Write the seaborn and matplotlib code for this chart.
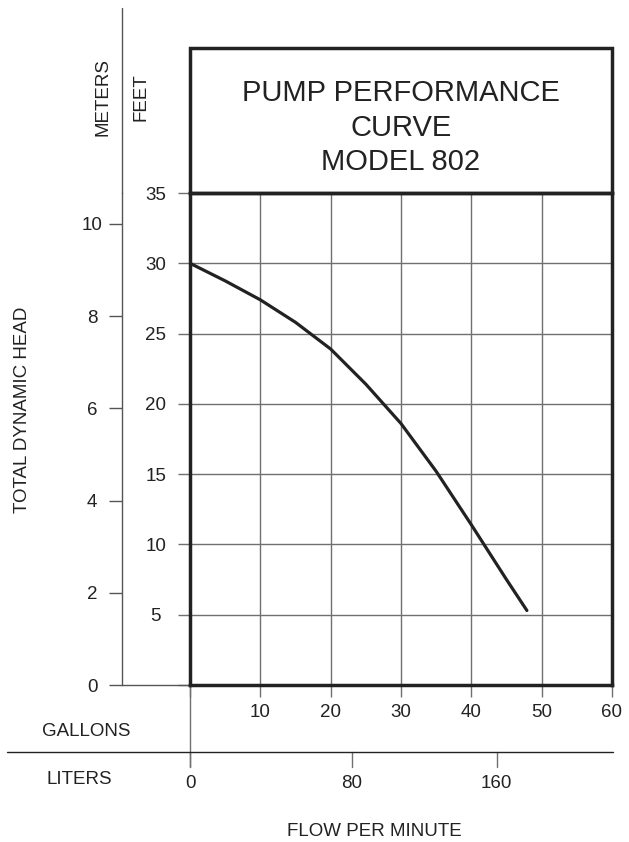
import numpy as np
import pandas as pd
import matplotlib
matplotlib.use("Agg")
import matplotlib.pyplot as plt
from matplotlib.lines import Line2D
from matplotlib.patches import Rectangle
import seaborn as sns

# ---------------- data ----------------
gallons = [0, 5, 10, 15, 20, 25, 30, 35, 40, 45, 47.9]
feet = [30, 28.75, 27.4, 25.8, 23.9, 21.4, 18.6, 15.2, 11.4, 7.5, 5.3]

gallon_ticks = [0, 10, 20, 30, 40, 50, 60]
gallon_labels = ["", "10", "20", "30", "40", "50", "60"]
feet_ticks = [0, 5, 10, 15, 20, 25, 30, 35]
feet_labels = ["", "5", "10", "15", "20", "25", "30", "35"]
meter_ticks = [0, 2, 4, 6, 8, 10]
meter_labels = ["0", "2", "4", "6", "8", "10"]
liter_labels = ["0", "80", "160"]
liter_pos_gal = [0, 23.0, 43.6]     # where the chart places the liter ticks (gallon units)
FT_PER_M = 1 / 0.3048

title_lines = ["PUMP PERFORMANCE", "CURVE", "MODEL 802"]

# ---------------- style ----------------
sns.set_theme(style="white")
plt.rcParams['font.family'] = ['Liberation Sans', 'DejaVu Sans']

W, H = 629, 842
fig = plt.figure(figsize=(W / 100, H / 100), dpi=100)

def fx(px):
    return px / W

def fy(py):
    return 1 - py / H

# main plot area: x 190..612 px, y 193..685 px
ax = fig.add_axes([fx(190), fy(685), (612 - 190) / W, (685 - 193) / H])
ax.set_xlim(0, 60)
ax.set_ylim(0, 35)

df = pd.DataFrame({"gal": gallons, "ft": feet})
sns.lineplot(data=df, x="gal", y="ft", ax=ax, color="#222222", linewidth=2.3, zorder=5)
ax.set_xlabel("")
ax.set_ylabel("")

GRID = "#707070"
TXT = "#222222"
FS = 13.5

ax.set_xticks(gallon_ticks)
ax.set_xticklabels(gallon_labels)
ax.set_yticks(feet_ticks)
ax.set_yticklabels(feet_labels)
ax.grid(True, color=GRID, linewidth=1.0)
ax.set_axisbelow(True)
ax.tick_params(axis="x", direction="out", length=8.6, width=1.0, color=GRID,
               pad=5, labelsize=FS, labelcolor=TXT, bottom=True)
ax.tick_params(axis="y", direction="out", length=8.6, width=1.0, color=GRID,
               pad=16, labelsize=FS, labelcolor=TXT, left=True)
for lab in ax.get_yticklabels():
    lab.set_horizontalalignment("center")

for s in ax.spines.values():
    s.set_visible(True)
    s.set_color("#222222")
    s.set_linewidth(2.5)
    s.set_zorder(6)

# title box above the plot
top_ft = (685 - 48) / ((685 - 193) / 35)
ax.add_patch(Rectangle((0, 35), 60, top_ft - 35, fill=False, edgecolor="#222222",
                       linewidth=2.5, clip_on=False, zorder=6))
for t, py in zip(title_lines, [93, 127.5, 162]):
    fig.text(fx(401), fy(py), t, ha="center", va="center", fontsize=21, color=TXT)

# meters axis
sec = ax.secondary_yaxis((122 - 190) / (612 - 190),
                         functions=(lambda f: f / FT_PER_M, lambda m: m * FT_PER_M))
sec.set_yticks(meter_ticks)
sec.set_yticklabels(meter_labels)
sec.tick_params(axis="y", direction="out", length=9.4, width=1.0, color="#555555",
                pad=12, labelsize=FS, labelcolor=TXT)
for lab in sec.get_yticklabels():
    lab.set_horizontalalignment("center")
sec.spines["left"].set_color("#555555")
sec.spines["left"].set_linewidth(1.0)
fig.add_artist(Line2D([fx(122), fx(122)], [fy(193), fy(8)], color="#555555", linewidth=1.0))

# zero line joining meters axis to the box
ax.add_line(Line2D([(122 - 190) / 422, 0], [0, 0], transform=ax.get_yaxis_transform(),
                   color="#555555", linewidth=1.0, clip_on=False))

# lower scales: gallons / liters divider
ax.add_line(Line2D([0, 0], [0, -(767 - 685) / 492], transform=ax.get_xaxis_transform(),
                   color=GRID, linewidth=1.0, clip_on=False))
fig.add_artist(Line2D([fx(7), fx(613)], [fy(752), fy(752)], color="#222222", linewidth=1.0))
for pos, lab in zip(liter_pos_gal, liter_labels):
    ax.add_line(Line2D([pos, pos], [-(752 - 685) / 492, -(767 - 685) / 492],
                       transform=ax.get_xaxis_transform(), color=GRID, linewidth=1.0,
                       clip_on=False))
    ax.text(pos, -(784 - 685) / 492, lab, transform=ax.get_xaxis_transform(),
            ha="center", va="center", fontsize=FS, color=TXT)

# axis titles
fig.text(fx(86), fy(732), "GALLONS", ha="center", va="center", fontsize=FS, color=TXT)
fig.text(fx(79), fy(779), "LITERS", ha="center", va="center", fontsize=FS, color=TXT)
fig.text(fx(374), fy(831), "FLOW PER MINUTE", ha="center", va="center", fontsize=FS, color=TXT)
fig.text(fx(103), fy(97), "METERS", ha="center", va="center", rotation=90, fontsize=FS, color=TXT)
fig.text(fx(141), fy(97), "FEET", ha="center", va="center", rotation=90, fontsize=FS, color=TXT)
fig.text(fx(23), fy(410), "TOTAL DYNAMIC HEAD", ha="center", va="center", rotation=90,
         fontsize=FS, color=TXT)

fig.savefig("out.png", dpi=100)
